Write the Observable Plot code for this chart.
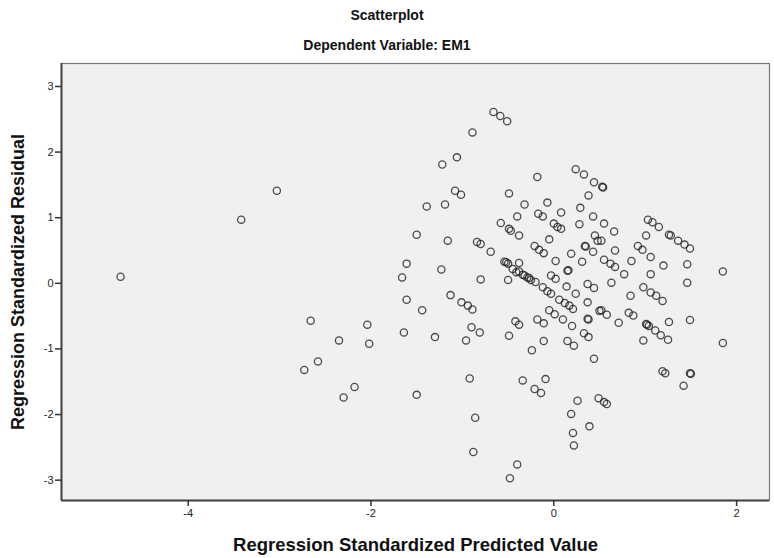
<!DOCTYPE html>
<html>
<head>
<meta charset="utf-8">
<script src="https://cdn.jsdelivr.net/npm/d3@7"></script>
<script src="https://cdn.jsdelivr.net/npm/@observablehq/plot@0.6"></script>
<style>
  body { margin: 0; background: #fff; font-family: "Liberation Sans", Arial, sans-serif; }
  #wrap { width: 774px; }
  .t { text-align: center; font-weight: bold; font-size: 14px; color: #111; position: absolute; width: 774px; left: 0; }
  #head { position: relative; height: 52px; }
</style>
</head>
<body>
<div id="wrap">
  <div id="head">
    <div class="t" style="top:7px">Scatterplot</div>
    <div class="t" style="top:37px">Dependent Variable: EM1</div>
  </div>
  <div id="chart"></div>
</div>
<script>
const predicted = [
  -4.74, -3.42, -3.03, -2.73, -1.22, -1.08, -1.39, -1.19, -1.50, -1.16,
  -1.61, -1.23, -1.66, -1.13, -1.61, -1.44, -2.66, -2.04, -1.64, -1.30,
  -2.35, -2.02, -2.58, -2.18, -2.30, -1.50, -0.66, -0.585, -0.51, -0.89,
  -1.06, -1.015, -0.18, 0.24, 0.33, 0.44, 0.53, 0.54, -0.49, -0.32,
  -0.07, 0.38, 0.29, -0.40, -0.17, -0.12, 0.08, 0.43, -0.58, -0.49,
  -0.47, -0.38, 0.00, 0.04, 0.08, 0.28, -0.05, 0.45, 0.48, -0.84,
  -0.80, -0.69, -0.21, -0.16, -0.11, 0.34, 0.35, 0.43, 0.19, 0.02,
  0.31, 0.16, -0.54, -0.52, -0.50, -0.38, -0.45, -0.38, -0.32, -0.27,
  -0.80, -0.50, -0.03, 0.02, -0.41, -0.34, -0.29, -0.25, -0.20, 0.15,
  -0.12, -0.07, -0.03, 0.14, 0.24, 0.37, 0.44, 0.37, 0.50, -1.01,
  -0.94, -0.89, 0.06, 0.12, 0.17, 0.21, -0.05, 0.01, 0.10, 0.37,
  0.38, 0.20, 0.33, 0.38, 0.15, 0.22, 0.44, -0.42, -0.38, -0.18,
  -0.11, -0.90, -0.81, -0.49, -0.96, -0.11, -0.24, -0.92, -0.34, -0.09,
  -0.21, -0.14, 0.26, 0.49, 0.19, 0.39, 0.21, 0.22, -0.86, -0.88,
  -0.40, -0.48, 0.55, 0.66, 0.52, 0.67, 0.55, 0.62, 0.67, 0.77,
  0.85, 0.92, 0.97, 1.06, 1.01, 1.03, 1.08, 1.15, 1.20, 1.06,
  1.26, 1.28, 1.36, 1.43, 1.49, 1.46, 1.85, 0.63, 0.84, 0.98,
  1.06, 1.12, 1.19, 1.46, 0.52, 0.58, 0.71, 0.82, 0.87, 1.01,
  1.02, 1.04, 1.11, 1.17, 1.25, 1.26, 0.98, 1.49, 1.85, 1.19,
  1.22, 1.49, 1.50, 1.42, 0.55, 0.58
];
const residual = [
  0.10, 0.97, 1.41, -1.32, 1.81, 1.41, 1.17, 1.20, 0.74, 0.65,
  0.30, 0.21, 0.09, -0.18, -0.25, -0.41, -0.57, -0.63, -0.75, -0.82,
  -0.87, -0.92, -1.19, -1.58, -1.74, -1.70, 2.61, 2.55, 2.47, 2.30,
  1.92, 1.35, 1.62, 1.74, 1.66, 1.54, 1.47, 1.46, 1.37, 1.20,
  1.23, 1.34, 1.15, 1.02, 1.06, 1.02, 1.08, 1.02, 0.92, 0.83,
  0.80, 0.73, 0.91, 0.86, 0.83, 0.90, 0.67, 0.73, 0.65, 0.63,
  0.60, 0.48, 0.57, 0.51, 0.46, 0.57, 0.56, 0.48, 0.45, 0.34,
  0.33, 0.20, 0.33, 0.32, 0.30, 0.31, 0.22, 0.18, 0.12, 0.08,
  0.06, 0.05, 0.12, 0.07, 0.17, 0.13, 0.09, 0.05, 0.02, 0.19,
  -0.06, -0.12, -0.16, -0.05, -0.16, -0.01, -0.07, -0.29, -0.42, -0.29,
  -0.34, -0.40, -0.25, -0.30, -0.34, -0.39, -0.41, -0.47, -0.55, -0.54,
  -0.55, -0.65, -0.76, -0.82, -0.88, -0.95, -1.15, -0.58, -0.63, -0.55,
  -0.61, -0.67, -0.75, -0.80, -0.87, -0.88, -1.02, -1.45, -1.48, -1.46,
  -1.61, -1.67, -1.79, -1.75, -1.99, -2.18, -2.28, -2.47, -2.05, -2.57,
  -2.76, -2.97, 0.91, 0.79, 0.65, 0.50, 0.36, 0.30, 0.25, 0.14,
  0.34, 0.57, 0.51, 0.40, 0.73, 0.97, 0.93, 0.86, 0.27, 0.14,
  0.74, 0.73, 0.65, 0.59, 0.53, 0.29, 0.18, 0.01, -0.19, -0.06,
  -0.14, -0.19, -0.27, 0.01, -0.41, -0.48, -0.60, -0.45, -0.49, -0.62,
  -0.63, -0.65, -0.72, -0.79, -0.86, -0.59, -0.87, -0.56, -0.91, -1.34,
  -1.37, -1.37, -1.38, -1.56, -1.81, -1.84
];
const xTicks = [-4, -2, 0, 2];
const yTicks = [-3, -2, -1, 0, 1, 2, 3];
const xLabel = "Regression Standardized Predicted Value";
const yLabel = "Regression Standardized Residual";

const points = predicted.map((p, i) => ({p, r: residual[i]}));
const fmt = d => String(d);

const chart = Plot.plot({
  width: 774,
  height: 506,
  marginTop: 11,
  marginBottom: 58,
  marginLeft: 61,
  marginRight: 5,
  style: {fontFamily: "'Liberation Sans', Arial, sans-serif", color: "#222", background: "#fff", overflow: "visible"},
  x: {domain: [-5.386, 2.36]},
  y: {domain: [-3.31, 3.35]},
  marks: [
    Plot.frame({fill: "#f0f0f0", stroke: null}),
    Plot.dot(points, {x: "p", y: "r", r: 3.6, stroke: "#222", strokeOpacity: 0.8, strokeWidth: 1.3, fill: "none"}),
    Plot.frame({stroke: "#777", strokeWidth: 1.2}),
    Plot.ruleX([-5.386], {stroke: "#444", strokeWidth: 2}),
    Plot.ruleY([-3.31], {stroke: "#444", strokeWidth: 2}),
    Plot.axisX({ticks: xTicks, tickFormat: fmt, tickSize: 6, tickPadding: 3, fontSize: 11, label: null, stroke: "#333", strokeWidth: 1.5}),
    Plot.axisY({ticks: yTicks, tickFormat: fmt, tickSize: 6, tickPadding: 2, fontSize: 11, label: null, stroke: "#333", strokeWidth: 1.5}),
    Plot.text([xLabel], {frameAnchor: "bottom", dy: 45, lineAnchor: "middle", textAnchor: "middle", fontWeight: "bold", fontSize: 18.5, fill: "#111"}),
    Plot.text([yLabel], {frameAnchor: "left", dx: -43, rotate: -90, lineAnchor: "middle", textAnchor: "middle", fontWeight: "bold", fontSize: 18, fill: "#111"})
  ]
});
document.getElementById("chart").appendChild(chart);
</script>
</body>
</html>
